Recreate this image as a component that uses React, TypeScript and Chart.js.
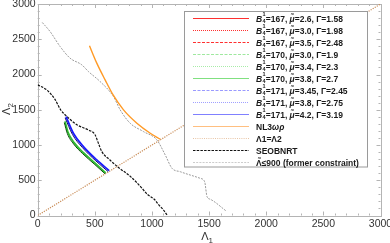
import React, { useEffect, useRef } from "react";
import { Chart, registerables } from "chart.js";

Chart.register(...registerables);

// ---------------- data ----------------
const xTicks = [0, 500, 1000, 1500, 2000, 2500, 3000];
const yTicks = [0, 500, 1000, 1500, 2000, 2500, 3000];

// B^1/4 = 171, mu = 4.2 (blue solid)
const b171mu42 = [[248, 1403], [312, 1167], [400, 977], [517, 788], [625, 636]];
// B^1/4 = 171, mu = 3.45 (blue dashed, dark)
const b171mu345 = [[240, 1385], [304, 1150], [392, 962], [509, 774], [617, 622]];
// B^1/4 = 170, mu = 3.8 (green solid)
const b170mu38 = [[239, 1335], [265, 1180], [320, 1030], [400, 890], [500, 745], [595, 605]];
// B^1/4 = 170, mu = 3.0 (green dashed, dark)
const b170mu30 = [[233, 1318], [259, 1164], [314, 1015], [394, 876], [494, 731], [589, 592]];
const emptySeries: number[][] = [];

const nl3wr = [[453, 2407], [517, 2161], [590, 1924], [660, 1710], [751, 1498], [868, 1309], [985, 1167], [1073, 1082]];
const equalLine = [[0, 0], [3000, 3000]];
const seobnrt = [
  [0, 1853], [80, 1780], [150, 1650], [200, 1500], [255, 1405], [340, 1290], [440, 1215], [500, 1150],
  [530, 1030], [560, 910], [630, 790], [700, 690], [810, 555], [900, 410], [960, 300], [1020, 230],
  [1060, 150], [1100, 80], [1135, 0],
];
const formerConstraint = [
  [40, 2738], [108, 2610], [196, 2397], [283, 2232], [386, 2137], [444, 2042], [546, 1900], [663, 1687],
  [722, 1498], [809, 1309], [926, 1190], [1043, 1072], [1116, 859], [1175, 670], [1248, 621], [1423, 527],
  [1461, 479], [1482, 267], [1511, 230], [1648, 66],
];

// legend label values
const bValues = ["167", "167", "167", "170", "170", "170", "171", "171", "171"];
const muValues = ["2.6", "3.0", "3.5", "3.0", "3.4", "3.8", "3.45", "3.8", "4.2"];
const gammaValues = ["1.58", "1.98", "2.48", "1.9", "2.3", "2.7", "2.45", "2.75", "3.19"];
const otherLabels = ["NL3ωρ", "Λ1=Λ2", "SEOBNRT", "Λ̃≤900 (former constraint)"];

// ---------------- styles ----------------
type Series = {
  data: number[][];
  color: string;
  width: number;
  dash: number[];
  legendColor: string;
  legendDash: number[];
};

const seriesList: Series[] = [
  { data: emptySeries, color: "#ff2020", width: 1.5, dash: [], legendColor: "#ff3030", legendDash: [] },
  { data: emptySeries, color: "#ff2020", width: 1.5, dash: [1, 1], legendColor: "#ff3030", legendDash: [1, 1] },
  { data: emptySeries, color: "#ff2020", width: 1.5, dash: [3, 1.5], legendColor: "#ff3030", legendDash: [3, 1.5] },
  { data: b170mu30, color: "#0b4d0b", width: 1, dash: [], legendColor: "#9fe89f", legendDash: [3, 1.5] },
  { data: emptySeries, color: "#40c040", width: 1.5, dash: [1, 1], legendColor: "#a8eca8", legendDash: [1, 1] },
  { data: b170mu38, color: "#30c030", width: 1.8, dash: [], legendColor: "#80e080", legendDash: [] },
  { data: b171mu345, color: "#101070", width: 1, dash: [], legendColor: "#9a9aff", legendDash: [3, 1.5] },
  { data: emptySeries, color: "#4040ff", width: 1.5, dash: [1, 1], legendColor: "#a0a0ff", legendDash: [1, 1] },
  { data: b171mu42, color: "#1a1aff", width: 1.8, dash: [], legendColor: "#8080ff", legendDash: [] },
  { data: nl3wr, color: "#ff9a26", width: 1.4, dash: [], legendColor: "#ffbf80", legendDash: [] },
  { data: equalLine, color: "#c98d58", width: 1.2, dash: [1.2, 1.2], legendColor: "#e8c4a4", legendDash: [1, 1.2] },
  { data: seobnrt, color: "#111111", width: 1.2, dash: [2.5, 1.2], legendColor: "#111111", legendDash: [2.5, 1.2] },
  { data: formerConstraint, color: "#9a9a9a", width: 1, dash: [2, 1.2], legendColor: "#cccccc", legendDash: [2, 1.2] },
];

const FONT = "'Liberation Sans', Arial, sans-serif";

type Part = { t: string; it?: boolean; size?: number; dy?: number; stack?: boolean };

function labelParts(i: number): Part[] {
  if (i < bValues.length) {
    return [
      { t: "B", it: true },
      { t: "", stack: true },
      { t: `=${bValues[i]}, ` },
      { t: "μ̃", it: true },
      { t: `=${muValues[i]}, Γ=${gammaValues[i]}` },
    ];
  }
  const s = otherLabels[i - bValues.length];
  if (s === "NL3ωρ") return [{ t: "NL3" }, { t: "ωρ", it: true }];
  return [{ t: s }];
}

function drawParts(ctx: CanvasRenderingContext2D, parts: Part[], x: number, base: number) {
  let cx = x;
  for (const p of parts) {
    if (p.stack) {
      ctx.font = `bold 5.5px ${FONT}`;
      ctx.fillText("1", cx + 0.3, base - 5.2);
      ctx.fillText("4", cx + 0.3, base + 1.3);
      cx += 3.6;
      continue;
    }
    ctx.font = `${p.it ? "italic " : ""}bold ${p.size ?? 8.5}px ${FONT}`;
    ctx.fillText(p.t, cx, base + (p.dy ?? 0));
    cx += ctx.measureText(p.t).width;
  }
}

function drawTitles(chart: any) {
  const { ctx, chartArea: a } = chart;
  ctx.save();
  ctx.fillStyle = "#333";
  ctx.textAlign = "left";
  ctx.textBaseline = "alphabetic";
  ctx.font = `11px ${FONT}`;
  const wL = ctx.measureText("Λ").width;
  ctx.font = `8px ${FONT}`;
  const w1 = ctx.measureText("1").width;
  // x title
  const cx = (a.left + a.right) / 2 - 2;
  let x0 = cx - (wL + w1) / 2;
  ctx.font = `11px ${FONT}`;
  ctx.fillText("Λ", x0, 240);
  ctx.font = `8px ${FONT}`;
  ctx.fillText("1", x0 + wL, 242.5);
  // y title (rotated)
  ctx.translate(10, 109);
  ctx.rotate(-Math.PI / 2);
  x0 = -(wL + w1) / 2;
  ctx.font = `11px ${FONT}`;
  ctx.fillText("Λ", x0, 0);
  ctx.font = `8px ${FONT}`;
  ctx.fillText("2", x0 + wL, 2.5);
  ctx.restore();
}

function drawTickLabels(chart: any) {
  const { ctx, chartArea: a, scales } = chart;
  ctx.save();
  ctx.fillStyle = "#333";
  ctx.font = `10.5px ${FONT}`;
  ctx.textAlign = "center";
  ctx.textBaseline = "top";
  for (const v of xTicks) {
    ctx.fillText(String(v), scales.x.getPixelForValue(v), a.bottom + 3.5);
  }
  ctx.textAlign = "right";
  ctx.textBaseline = "middle";
  for (const v of yTicks) {
    ctx.fillText(String(v), a.left - 2, scales.y.getPixelForValue(v));
  }
  ctx.restore();
}

const framePlugin = {
  id: "frameTicks",
  beforeDatasetsDraw(chart: any) {
    const { ctx, chartArea: a, scales } = chart;
    const xs = scales.x;
    const ys = scales.y;
    ctx.save();
    ctx.strokeStyle = "#b4b4b4";
    ctx.lineWidth = 1;
    ctx.beginPath();
    for (let v = 0; v <= 3000; v += 100) {
      const major = v % 500 === 0;
      const len = major ? 4 : 2;
      const px = Math.round(xs.getPixelForValue(v)) + 0.5;
      ctx.moveTo(px, a.bottom);
      ctx.lineTo(px, a.bottom - len);
      ctx.moveTo(px, a.top);
      ctx.lineTo(px, a.top + len);
      const py = Math.round(ys.getPixelForValue(v)) + 0.5;
      ctx.moveTo(a.left, py);
      ctx.lineTo(a.left + len, py);
      ctx.moveTo(a.right, py);
      ctx.lineTo(a.right - len, py);
    }
    ctx.stroke();
    ctx.strokeRect(Math.round(a.left) + 0.5, Math.round(a.top) + 0.5, Math.round(a.right - a.left), Math.round(a.bottom - a.top));
    ctx.restore();
  },
  afterDraw(chart: any) {
    drawTickLabels(chart);
    drawTitles(chart);
  },
};

const legendPlugin = {
  id: "boxLegend",
  afterDatasetsDraw(chart: any) {
    const ctx: CanvasRenderingContext2D = chart.ctx;
    ctx.save();
    ctx.fillStyle = "#ffffff";
    ctx.fillRect(184.5, 11.5, 183, 155.5);
    ctx.strokeStyle = "#9a9a9a";
    ctx.lineWidth = 1;
    ctx.strokeRect(184.5, 11.5, 183, 155.5);
    seriesList.forEach((s, i) => {
      const y = Math.round(17.5 + i * 12) + 0.5;
      ctx.strokeStyle = s.legendColor;
      ctx.lineWidth = 1;
      ctx.setLineDash(s.legendDash);
      ctx.beginPath();
      ctx.moveTo(193, y);
      ctx.lineTo(249, y);
      ctx.stroke();
      ctx.setLineDash([]);
      ctx.fillStyle = "#1a1a1a";
      drawParts(ctx, labelParts(i), 256, y + 3);
    });
    ctx.restore();
  },
};

export default function App() {
  const ref = useRef<HTMLCanvasElement>(null);
  useEffect(() => {
    document.body.style.margin = "0";
    const canvas = ref.current!;
    const chart = new Chart(canvas, {
      type: "line",
      data: {
        datasets: seriesList.map((s) => ({
          data: s.data.map(([x, y]) => ({ x, y })),
          borderColor: s.color,
          borderWidth: s.width,
          borderDash: s.dash,
          pointRadius: 0,
          fill: false,
          tension: 0.3,
          cubicInterpolationMode: "monotone",
        })),
      },
      options: {
        animation: false,
        responsive: false,
        devicePixelRatio: 1,
        layout: { autoPadding: false, padding: { left: 37.7, top: 4, right: 9.5, bottom: 27.5 } },
        plugins: { legend: { display: false }, tooltip: { enabled: false } },
        scales: {
          x: { type: "linear", display: false, min: xTicks[0], max: xTicks[xTicks.length - 1] },
          y: { type: "linear", display: false, min: yTicks[0], max: yTicks[yTicks.length - 1] },
        },
      } as any,
      plugins: [framePlugin, legendPlugin],
    });
    return () => chart.destroy();
  }, []);
  return <canvas ref={ref} width={390} height={243} style={{ display: "block" }} />;
}
